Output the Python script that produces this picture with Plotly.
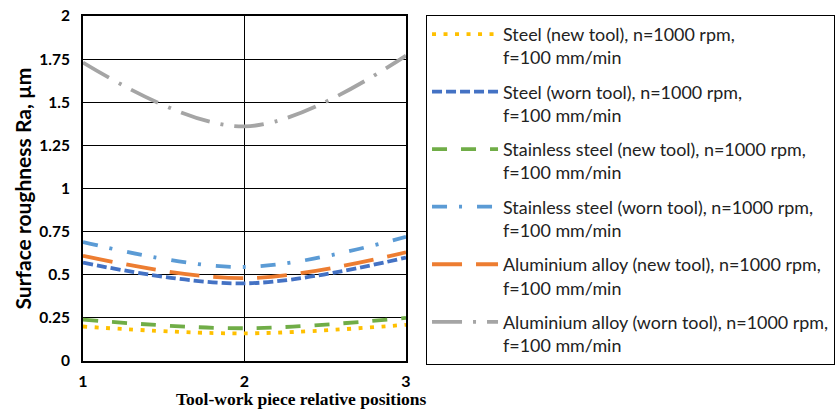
import plotly.graph_objects as go

positions = [1, 2, 3]
steel_new = [0.20, 0.16, 0.21]
steel_worn = [0.57, 0.45, 0.60]
stainless_new = [0.24, 0.19, 0.25]
stainless_worn = [0.69, 0.545, 0.72]
alu_new = [0.61, 0.48, 0.63]
alu_worn = [1.73, 1.36, 1.77]

names = [
    "Steel (new tool), n=1000 rpm,<br>f=100 mm/min",
    "Steel (worn tool), n=1000 rpm,<br>f=100 mm/min",
    "Stainless steel (new tool), n=1000 rpm,<br>f=100 mm/min",
    "Stainless steel (worn tool), n=1000 rpm,<br>f=100 mm/min",
    "Aluminium alloy (new tool), n=1000 rpm,<br>f=100 mm/min",
    "Aluminium alloy (worn tool), n=1000 rpm,<br>f=100 mm/min",
]
series = [steel_new, steel_worn, stainless_new, stainless_worn, alu_new, alu_worn]
colors = ["#FFC000", "#4472C4", "#70AD47", "#5B9BD5", "#ED7D31", "#A5A5A5"]
dashes = ["4px,7.5px", "10px,4px", "15px,14px", "15px,12px,3px,15px", "30px,14px", "30px,11px,3px,11px"]

y_ticks = [0, 0.25, 0.5, 0.75, 1, 1.25, 1.5, 1.75, 2]
y_ticktext = ["0", "0.25", "0.5", "0.75", "1", "1.25", "1.5", "1.75", "2"]
x_ticks = [1, 2, 3]

fig = go.Figure()
for i, (nm, ys, c, d) in enumerate(zip(names, series, colors, dashes)):
    fig.add_trace(go.Scatter(
        x=positions, y=ys, name=nm, mode="lines",
        line=dict(color=c, width=3.8, dash=d, shape="spline", smoothing=1.0),
        legendgroup=f"g{i}",
    ))

fig.update_layout(
    width=837, height=409,
    margin=dict(l=83, r=431, t=16, b=48, autoexpand=False),
    plot_bgcolor="white", paper_bgcolor="white",
    font=dict(family="Lato, sans-serif", color="black"),
    showlegend=True,
    legend=dict(
        x=1.062, y=1.003, xanchor="left", yanchor="top",
        bordercolor="black", borderwidth=1, bgcolor="white",
        font=dict(family="Lato, sans-serif", size=17.9, color="#222"),
        tracegroupgap=8, valign="top", itemwidth=66, maxheight=400,
    ),
    xaxis=dict(
        range=[1, 3], tickvals=x_ticks, ticktext=[str(v) for v in x_ticks],
        showgrid=True, gridcolor="black", gridwidth=1,
        showline=True, linecolor="black", linewidth=2, mirror=True,
        zeroline=False, ticks="", ticklabelstandoff=5,
        tickfont=dict(family="Lato, sans-serif", size=16, color="black", weight="bold"),
    ),
    yaxis=dict(
        range=[0, 2], tickvals=y_ticks, ticktext=y_ticktext,
        showgrid=True, gridcolor="black", gridwidth=1,
        showline=True, linecolor="black", linewidth=2, mirror=True,
        zeroline=False, ticks="", ticklabelstandoff=8,
        tickfont=dict(family="Lato, sans-serif", size=15.5, color="black", weight="bold"),
    ),
)
fig.add_annotation(
    text="Surface roughness Ra, µm", xref="paper", yref="paper",
    x=(22 - 83) / 323, y=0.5, xanchor="center", yanchor="middle", showarrow=False,
    textangle=-90,
    font=dict(family="Lato, sans-serif", size=21, color="black", weight="bold"),
)
fig.add_annotation(
    text="Tool-work piece relative positions", xref="paper", yref="paper",
    x=(301.5 - 83) / 323, y=(361 - 399) / 345, xanchor="center", yanchor="middle",
    showarrow=False,
    font=dict(family="Liberation Serif, serif", size=17.5, color="black", weight="bold"),
)
fig.write_html("out.html", post_script="document.body.style.margin='0px';",
               config={"displayModeBar": False})
